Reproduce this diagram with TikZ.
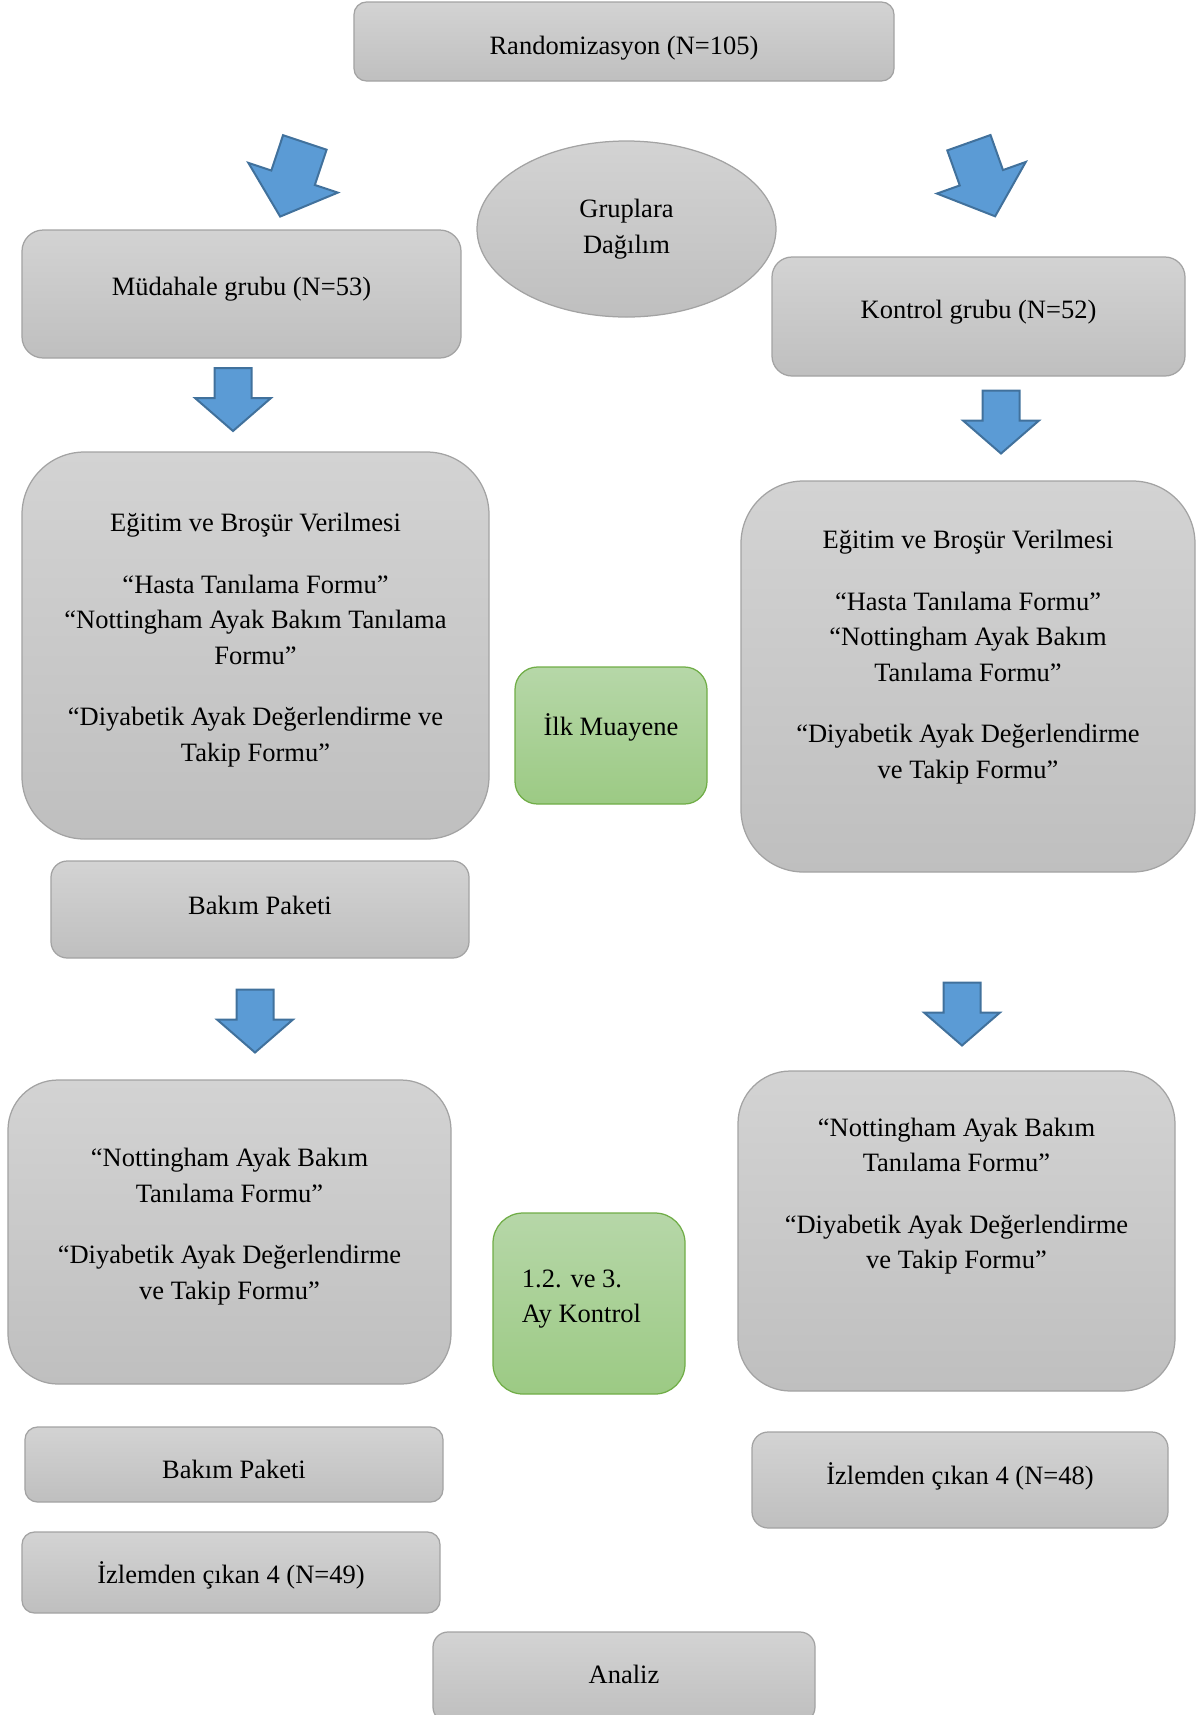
\documentclass[tikz,border=0pt]{standalone}
\usepackage{fontspec}
\setmainfont{Liberation Serif}
\usepackage{tikz}
\usetikzlibrary{shapes.geometric}

\definecolor{boxtop}{HTML}{D3D3D3}
\definecolor{boxbottom}{HTML}{BFBFBF}
\definecolor{boxline}{HTML}{A3A3A3}
\definecolor{greentop}{HTML}{B6D7A8}
\definecolor{greenbottom}{HTML}{9CCA84}
\definecolor{greenline}{HTML}{70AD47}
\definecolor{arrowfill}{HTML}{5B9BD5}
\definecolor{arrowline}{HTML}{41719C}

\tikzset{
    graybox/.style={draw=boxline, line width=0.5pt, top color=boxtop, bottom color=boxbottom,
        align=center, inner sep=0pt, font=\fontsize{10.6}{14.2}\selectfont},
    greenbox/.style={graybox, draw=greenline, top color=greentop, bottom color=greenbottom},
    blockarrow/.style={fill=arrowfill, draw=arrowline, line width=0.8pt, line join=miter}
}

\begin{document}
\begin{tikzpicture}[x=0.4pt, y=-0.4pt]
    \useasboundingbox (0,0) rectangle (1198,1715);

    % Top
    \node (rand) [graybox, rounded corners=5pt, minimum width=216pt, minimum height=31.6pt, text height=12pt, text depth=2pt] at (624,41.5) {Randomizasyon (N=105)};
    \node (dagilim) [graybox, ellipse, minimum width=119.6pt, minimum height=70.4pt] at (626.5,229) {Gruplara\\Dağılım};

    % Groups
    \node (mudahale) [graybox, rounded corners=8.5pt, minimum width=175.6pt, minimum height=51.2pt, text height=3.4pt, text depth=2pt] at (241.5,294) {Müdahale grubu (N=53)};
    \node (kontrol) [graybox, rounded corners=8pt, minimum width=165.2pt, minimum height=47.6pt, text height=3.8pt, text depth=2pt] at (978.5,316.5) {Kontrol grubu (N=52)};

    % First visit
    \node (mudform) [graybox, rounded corners=25pt, minimum width=186.8pt, minimum height=154.8pt] at (255.5,645.5)
        {Eğitim ve Broşür Verilmesi\\[10.4pt]“Hasta Tanılama Formu”\\“Nottingham Ayak Bakım Tanılama\\Formu”\\[10.4pt]“Diyabetik Ayak Değerlendirme ve\\Takip Formu”\\[-7.5pt]\mbox{}};
    \node (konform) [graybox, rounded corners=25pt, minimum width=181.6pt, minimum height=156.4pt] at (968,676.5)
        {Eğitim ve Broşür Verilmesi\\[10.4pt]“Hasta Tanılama Formu”\\“Nottingham Ayak Bakım\\Tanılama Formu”\\[10.4pt]“Diyabetik Ayak Değerlendirme\\ve Takip Formu”\\[3.4pt]\mbox{}};
    \node (ilk) [greenbox, rounded corners=9pt, minimum width=76.8pt, minimum height=54.8pt, text height=2.2pt, text depth=2pt] at (611,735.5) {İlk Muayene};
    \node (paket1) [graybox, rounded corners=6.5pt, minimum width=167.2pt, minimum height=38.8pt, text height=5.6pt, text depth=2pt] at (260,909.5) {Bakım Paketi};

    % Follow-up
    \node (mudkontrol) [graybox, rounded corners=20pt, minimum width=177.2pt, minimum height=121.6pt] at (229.5,1232)
        {“Nottingham Ayak Bakım\\Tanılama Formu”\\[10.4pt]“Diyabetik Ayak Değerlendirme\\ve Takip Formu”\\[-7.5pt]\mbox{}};
    \node (konkontrol) [graybox, rounded corners=21pt, minimum width=174.8pt, minimum height=128pt] at (956.5,1231)
        {“Nottingham Ayak Bakım\\Tanılama Formu”\\[10.4pt]“Diyabetik Ayak Değerlendirme\\ve Takip Formu”\\[16pt]\mbox{}};
    \node (aykontrol) [greenbox, rounded corners=12pt, minimum width=76.8pt, minimum height=72.4pt, align=left] at (589,1303.5)
        {1.2. ve 3.\\Ay Kontrol\rule{6pt}{0pt}\\[-8.3pt]\mbox{}};

    % Bottom
    \node (paket2) [graybox, rounded corners=5pt, minimum width=167.2pt, minimum height=30pt, text height=13pt, text depth=2pt] at (234,1464.5) {Bakım Paketi};
    \node (mudcikan) [graybox, rounded corners=5pt, minimum width=167.2pt, minimum height=32.4pt, text height=10.6pt, text depth=2pt] at (231,1572.5) {İzlemden çıkan 4 (N=49)};
    \node (koncikan) [graybox, rounded corners=6.5pt, minimum width=166.4pt, minimum height=38.4pt, text height=5.6pt, text depth=2pt] at (960,1480) {İzlemden çıkan 4 (N=48)};
    \node (analiz) [graybox, rounded corners=6pt, minimum width=152.8pt, minimum height=36pt, text height=7.4pt, text depth=2pt] at (624,1677) {Analiz};

    % Block arrows
    \foreach \px/\py/\ang/\sc in {233/399.5/0/1, 1001/422/0/1, 255/1021/0/1, 962/1014/0/1, 292.5/179.5/-18.4/1.24, 982/179.5/19.6/1.24} {
        \draw [blockarrow, shift={(\px,\py)}, rotate=\ang, scale=\sc]
            (-18.5,-31.5) -- (18.5,-31.5) -- (18.5,-1.5) -- (38,-1.5) -- (0,31.5) -- (-38,-1.5) -- (-18.5,-1.5) -- cycle;
    }
\end{tikzpicture}
\end{document}
